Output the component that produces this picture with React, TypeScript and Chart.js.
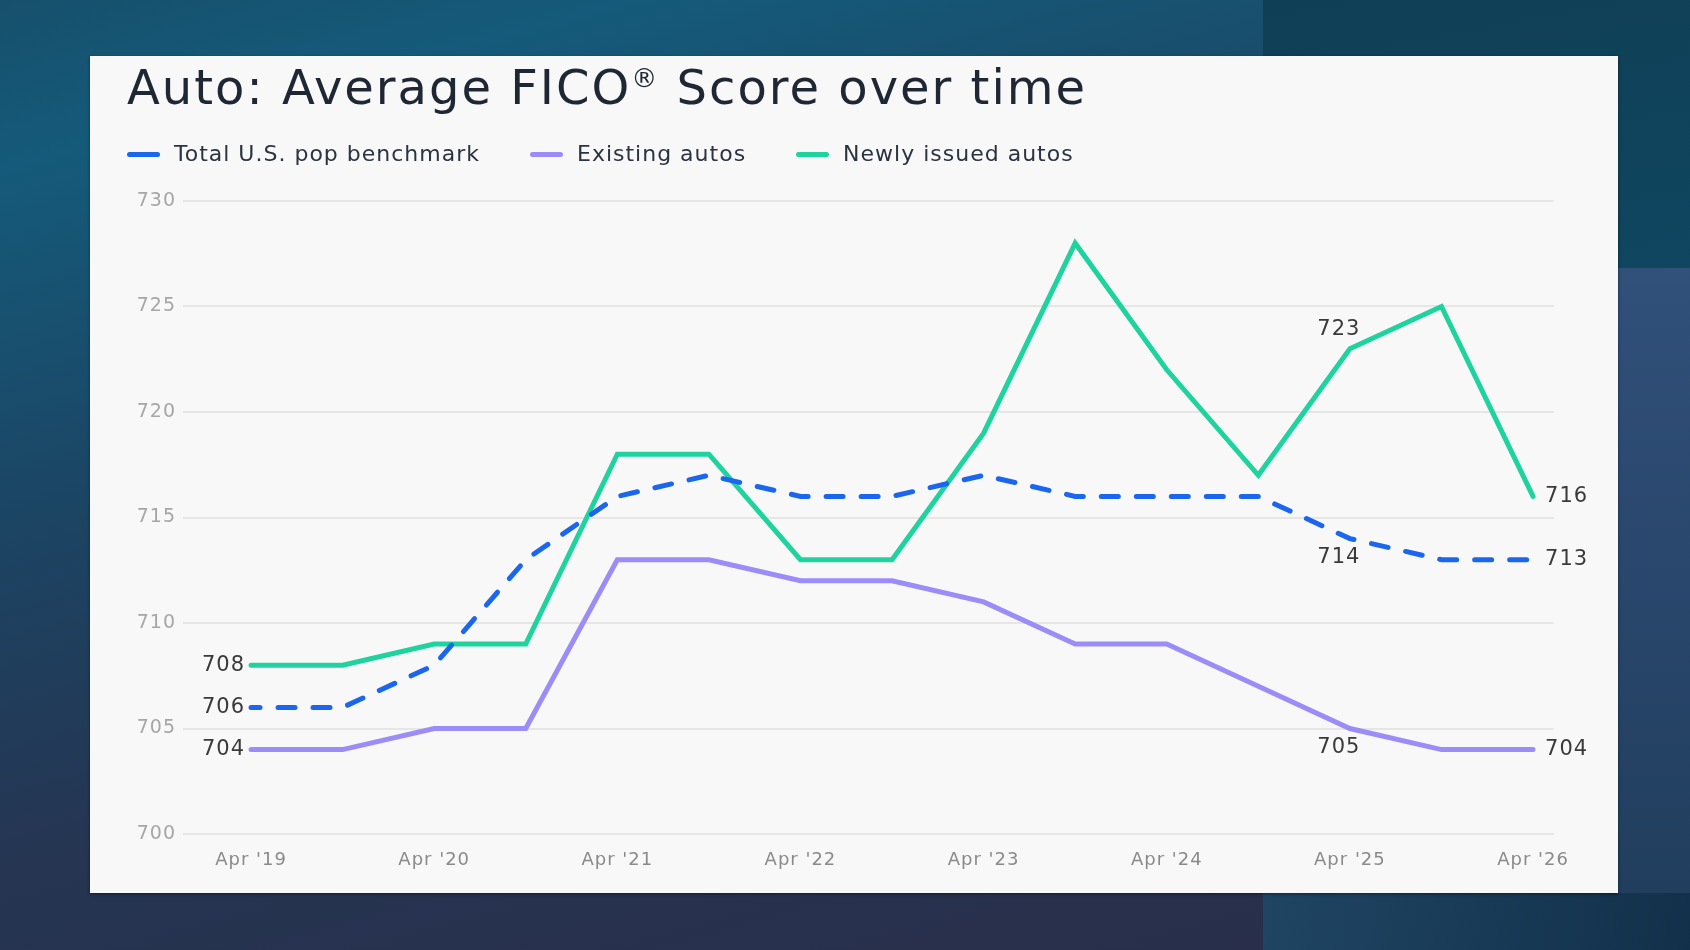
import React, { useEffect, useRef } from 'react';
import { Chart, registerables } from 'chart.js';

Chart.register(...registerables);

// half-yearly periods, only the April ones get a tick label
const periods = [
  "Apr '19", "Oct '19", "Apr '20", "Oct '20", "Apr '21", "Oct '21", "Apr '22", "Oct '22",
  "Apr '23", "Oct '23", "Apr '24", "Oct '24", "Apr '25", "Oct '25", "Apr '26",
];
const tickPeriods = ["Apr '19", "Apr '20", "Apr '21", "Apr '22", "Apr '23", "Apr '24", "Apr '25", "Apr '26"];

const benchmark = [706, 706, 708, 713, 716, 717, 716, 716, 717, 716, 716, 716, 714, 713, 713];
const existingAutos = [704, 704, 705, 705, 713, 713, 712, 712, 711, 709, 709, 707, 705, 704, 704];
const newAutos = [708, 708, 709, 709, 718, 718, 713, 713, 719, 728, 722, 717, 723, 725, 716];

const seriesNames = ['Total U.S. pop benchmark', 'Existing autos', 'Newly issued autos'];
const seriesColors = ['#1a66ee', '#9b8cf7', '#1fd39e'];

const yMin = 700;
const yMax = 730;
const yStep = 5;

// which points carry a value label, and on which side
const valueLabels = [
  { series: 2, at: 0, side: 'left' },
  { series: 0, at: 0, side: 'left' },
  { series: 1, at: 0, side: 'left' },
  { series: 2, at: 12, side: 'above' },
  { series: 0, at: 12, side: 'below' },
  { series: 1, at: 12, side: 'below' },
  { series: 2, at: 14, side: 'right' },
  { series: 0, at: 14, side: 'right' },
  { series: 1, at: 14, side: 'right' },
];

const FONT = '"DejaVu Sans", sans-serif';

const toPoints = (vals: number[]) => vals.map((v, i) => ({ x: i, y: v }));

// the source font is wide and loosely tracked
const spacingPlugin = {
  id: 'spacing',
  beforeDraw(chart: any) {
    chart.ctx.letterSpacing = '1px';
  },
};

const labelPlugin = {
  id: 'valueLabels',
  afterDatasetsDraw(chart: any) {
    const ctx = chart.ctx;
    ctx.save();
    ctx.font = `21px ${FONT}`;
    ctx.fillStyle = '#3a3a3a';
    ctx.textBaseline = 'middle';
    valueLabels.forEach((l) => {
      const el = chart.getDatasetMeta(l.series).data[l.at];
      const val = chart.data.datasets[l.series].data[l.at].y;
      let x = el.x;
      let y = el.y;
      if (l.side === 'left') {
        ctx.textAlign = 'right';
        x -= 6;
      } else if (l.side === 'right') {
        ctx.textAlign = 'left';
        x += 12;
      } else {
        ctx.textAlign = 'center';
        x -= 11;
        y += l.side === 'above' ? -19 : 19;
      }
      ctx.fillText(String(val), x, y);
    });
    ctx.restore();
  },
};

const FicoChart = () => {
  const canvasRef = useRef<HTMLCanvasElement>(null);
  const chartRef = useRef<Chart>();

  useEffect(() => {
    if (!canvasRef.current) return;
    if (chartRef.current) chartRef.current.destroy();

    const seriesData = [benchmark, existingAutos, newAutos];
    chartRef.current = new Chart(canvasRef.current, {
      type: 'line',
      data: {
        datasets: seriesData.map((vals, i) => ({
          label: seriesNames[i],
          data: toPoints(vals),
          borderColor: seriesColors[i],
          backgroundColor: seriesColors[i],
          borderWidth: 5,
          borderCapStyle: 'round',
          borderDash: i === 0 ? [17, 18] : [],
          borderDashOffset: 8,
          pointRadius: 0,
          tension: 0,
        })),
      },
      options: {
        animation: false,
        responsive: true,
        maintainAspectRatio: false,
        layout: { padding: { left: 37, right: 64, top: 145, bottom: 19 } },
        plugins: {
          legend: { display: false },
          tooltip: { enabled: false },
        },
        scales: {
          x: {
            type: 'linear',
            min: -0.743,
            max: 14.229,
            grid: { display: false },
            border: { display: false },
            afterBuildTicks: (axis: any) => {
              axis.ticks = tickPeriods.map((p) => ({ value: periods.indexOf(p) }));
            },
            afterFit: (axis: any) => {
              axis.height = 40;
            },
            ticks: {
              autoSkip: false,
              maxRotation: 0,
              padding: 8,
              color: '#8a8a8a',
              font: { family: FONT, size: 18 },
              callback: (v: any) => periods[v],
            },
          },
          y: {
            min: yMin,
            max: yMax,
            grid: { color: '#e6e6e6', lineWidth: 2, drawTicks: false },
            border: { display: false },
            afterFit: (axis: any) => {
              axis.width = 56;
            },
            ticks: {
              stepSize: yStep,
              padding: 7,
              color: '#a6a6a6',
              font: { family: FONT, size: 19 },
            },
          },
        },
      },
      plugins: [spacingPlugin, labelPlugin],
    } as any);

    return () => {
      if (chartRef.current) chartRef.current.destroy();
    };
  }, []);

  return <canvas ref={canvasRef} />;
};

export default function App() {
  return (
    <div
      style={{
        position: 'fixed',
        left: 0,
        top: 0,
        width: 1690,
        height: 950,
        overflow: 'hidden',
        background: 'linear-gradient(165deg, #16506c 0%, #155a7a 12%, #1c4463 38%, #253552 62%, #2a2d48 100%)',
      }}
    >
      <div style={{ position: 'absolute', left: 1263, top: 0, width: 427, height: 268, background: 'linear-gradient(170deg, #0f3f56, #104660)' }} />
      <div style={{ position: 'absolute', left: 1618, top: 268, width: 72, height: 625, background: 'linear-gradient(180deg, #31507a, #213e5e)' }} />
      <div style={{ position: 'absolute', left: 1263, top: 893, width: 427, height: 57, background: 'linear-gradient(100deg, #1f4563, #12304a)' }} />

      <div
        style={{
          position: 'absolute',
          left: 90,
          top: 56,
          width: 1528,
          height: 837,
          background: '#f8f8f8',
          boxShadow: '0 1px 3px rgba(0,0,0,0.45)',
          fontFamily: FONT,
        }}
      >
        <div style={{ position: 'absolute', left: 0, top: 0, width: 1528, height: 837 }}>
          <FicoChart />
        </div>
        <div
          style={{
            position: 'absolute',
            left: 37,
            top: 7,
            fontSize: 48,
            lineHeight: 1,
            letterSpacing: 2,
            color: '#1e2733',
            whiteSpace: 'nowrap',
          }}
        >
          Auto: Average FICO<sup style={{ fontSize: 26, verticalAlign: 'top', position: 'relative', top: 2 }}>®</sup> Score over time
        </div>
        <div
          style={{
            position: 'absolute',
            left: 37,
            top: 87,
            height: 22,
            display: 'flex',
            alignItems: 'center',
            fontSize: 22,
            lineHeight: 1,
            letterSpacing: 1,
            color: '#2b3340',
            whiteSpace: 'nowrap',
          }}
        >
          {seriesNames.map((name, i) => (
            <div key={name} style={{ display: 'flex', alignItems: 'center', marginRight: 50 }}>
              <span style={{ width: 33, height: 5, borderRadius: 3, background: seriesColors[i], marginRight: 14 }} />
              <span>{name}</span>
            </div>
          ))}
        </div>
      </div>
    </div>
  );
}
